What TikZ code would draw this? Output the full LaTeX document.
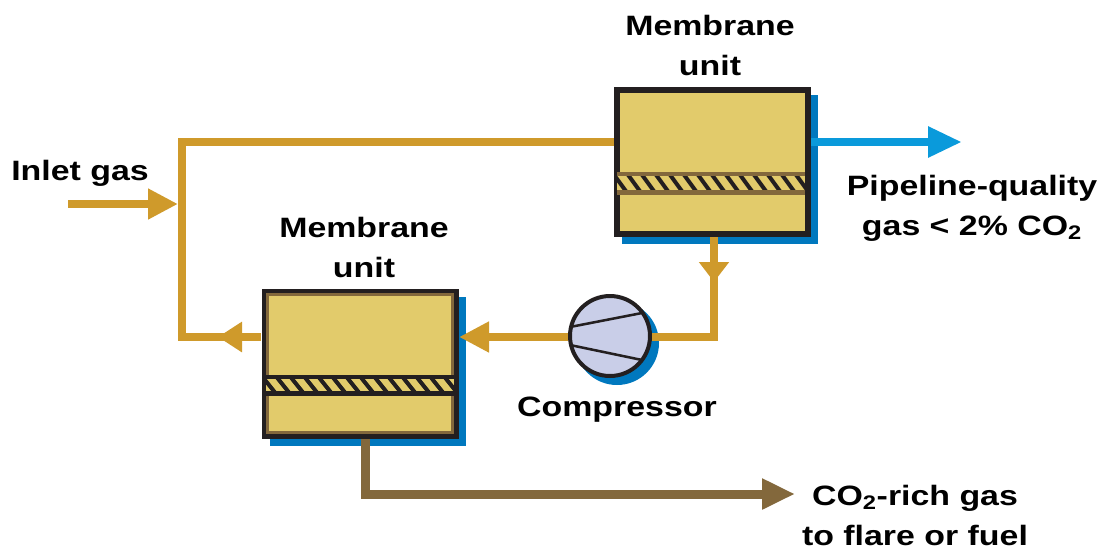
\documentclass[tikz,border=0pt]{standalone}
\usepackage{fontspec}
\setmainfont[FakeStretch=1.21]{Liberation Sans}
\usetikzlibrary{arrows.meta,calc}
\definecolor{pipegold}{HTML}{CF9A2B}
\definecolor{boxfill}{HTML}{E2CB6B}
\definecolor{pipeblue}{HTML}{0A9ADB}
\definecolor{shadowblue}{HTML}{0078BE}
\definecolor{pipebrown}{HTML}{83683C}
\definecolor{compfill}{HTML}{C9CEE8}
\definecolor{darkline}{HTML}{231F20}
\tikzset{
  pipe/.style={line width=6.4pt,color=pipegold,line join=miter},
  goldarrow/.style={pipe,-{Triangle[length=22.5pt,width=21.75pt]}},
  goldarrowmid/.style={pipe,-{Triangle[length=18pt,width=21.75pt]}},
  goldarrowshort/.style={pipe,-{Triangle[length=15pt,width=21.75pt]}},
  bluepipe/.style={line width=6.4pt,color=pipeblue,-{Triangle[length=25.5pt,width=21.75pt]}},
  brownpipe/.style={line width=6.75pt,color=pipebrown,line join=miter,-{Triangle[length=24.75pt,width=21.75pt]}},
  unitbox/.style={draw=darkline,fill=boxfill,line width=4.5pt,outer sep=0pt,inner sep=0pt,minimum width=143.25pt,minimum height=108pt},
  shadowbox/.style={fill=shadowblue,draw=none,inner sep=0pt,outer sep=0pt,minimum width=147pt,minimum height=111.75pt},
  compressorc/.style={circle,draw=darkline,fill=compfill,line width=3pt,outer sep=0pt,inner sep=0pt,minimum size=60pt},
  compshadow/.style={circle,fill=shadowblue,draw=none,outer sep=0pt,inner sep=0pt,minimum size=63pt},
  lbl/.style={font=\fontsize{21}{30}\selectfont\bfseries,align=center,text=black,inner sep=0pt},
  blade/.style={draw=darkline,line width=1.9pt},
  hatchline/.style={draw=darkline,line width=3pt},
}
\begin{document}
\begin{tikzpicture}[x=0.75pt,y=-0.75pt]
\useasboundingbox (0,0) rectangle (1107,551);
% shadows
\node[shadowbox] (topshadow) at (720,169.5) {};
\node[shadowbox] (botshadow) at (367.5,371) {};
\node[compshadow] (compsh) at (617,343) {};
% named points
\coordinate (inletstart) at (68,204);
\coordinate (inlettip) at (178,204);
\coordinate (topjoin) at (182,142);
\coordinate (botjoin) at (182,337);
\coordinate (topleft) at (614,142);
\coordinate (topright) at (811,142);
\coordinate (bluetip) at (962,142);
\coordinate (botleft) at (261,337);
\coordinate (botleftmid) at (218,337);
\coordinate (botright) at (459,337);
\coordinate (compleft) at (568,337);
\coordinate (compright) at (652,337);
\coordinate (rightcorner) at (714,337);
\coordinate (topbottom) at (714,237);
\coordinate (downtip) at (714,282);
\coordinate (brownstart) at (365,439);
\coordinate (browncorner) at (365,494);
\coordinate (browntip) at (795,494);
% boxes
\node[unitbox] (topbox) at (712.5,162) {};
\node[unitbox] (botbox) at (360,363.5) {};
\draw[pipebrown,line width=2.2pt] (267.5,294.5) rectangle (452.5,432.5);
% membrane bands, upper
\begin{scope}
\clip (617,172) rectangle (805,194);
\fill[boxfill] (617,172) rectangle (805,194);
\foreach \i in {0,...,14}{
  \draw[hatchline] ($(612,172)+(\i*14,0)$) -- ++(16,22);
}
\draw[pipebrown,line width=6pt] (617,172) -- (805,172);
\draw[pipebrown,line width=6pt] (617,194) -- (805,194);
\end{scope}
% membrane bands, lower
\begin{scope}
\clip (266,375) rectangle (454,395);
\fill[boxfill] (266,375) rectangle (454,395);
\foreach \i in {0,...,14}{
  \draw[hatchline] ($(261,375)+(\i*14,0)$) -- ++(16,20);
}
\draw[darkline,line width=6pt] (266,375) -- (454,375);
\draw[darkline,line width=6pt] (266,395) -- (454,395);
\end{scope}
% compressor
\node[compressorc] (comp) at (610,336) {};
\draw[blade] (570,327) -- (642,313);
\draw[blade] (570,345) -- (642,360);
% pipes
\draw[pipe] (topleft) -- (topjoin) -- (botjoin) -- (botleft);
\draw[goldarrow] (inletstart) -- (inlettip);
\draw[goldarrowmid] (botleft) -- (botleftmid);
\draw[goldarrow] (compleft) -- (botright);
\draw[pipe] (topbottom) -- (rightcorner) -- (compright);
\draw[goldarrowshort] (topbottom) -- (downtip);
\draw[bluepipe] (topright) -- (bluetip);
\draw[brownpipe] (brownstart) -- (browncorner) -- (browntip);
% labels
\node[lbl] (toplabel) at (710,45) {Membrane\\unit};
\node[lbl] (botlabel) at (364,247) {Membrane\\unit};
\node[lbl] (inletlabel) at (80,173) {Inlet gas};
\node[lbl] (pipelabel) at (972,208) {Pipeline-quality\\gas < 2\% CO\textsubscript{2}};
\node[lbl] (complabel) at (617,410) {Compressor};
\node[lbl] (co2label) at (915,515) {CO\textsubscript{2}-rich gas\\to flare or fuel};
\end{tikzpicture}
\end{document}
